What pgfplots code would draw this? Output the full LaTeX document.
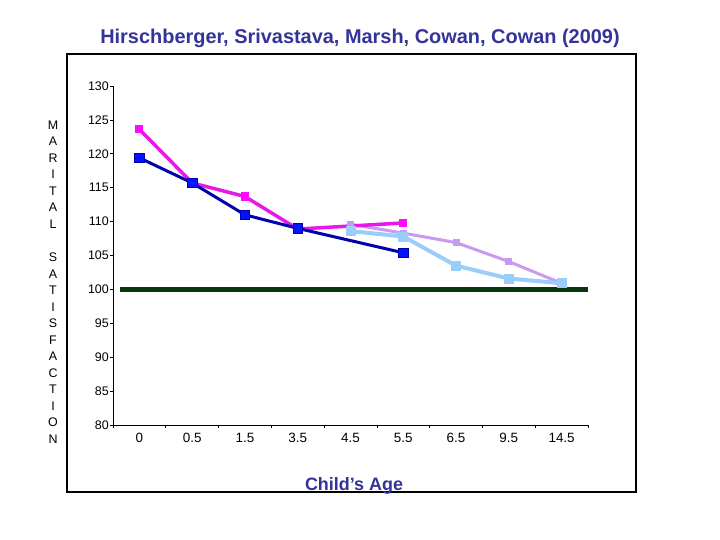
\documentclass[border=0pt]{standalone}
\usepackage{pgfplots}
\pgfplotsset{compat=1.18}
\usepackage{fontspec}
\setmainfont{Liberation Sans}

\definecolor{titleblue}{RGB}{51,51,153}
\definecolor{darkblue}{RGB}{0,0,175}
\definecolor{markblue}{RGB}{0,20,255}
\definecolor{mag}{RGB}{230,25,230}
\definecolor{magmark}{RGB}{255,10,255}
\definecolor{lav}{RGB}{200,155,240}
\definecolor{lblue}{RGB}{155,205,250}
\definecolor{dgreen}{RGB}{10,55,15}

\begin{document}
\begin{tikzpicture}[x=1bp,y=1bp]
\path[use as bounding box] (0,0) rectangle (720,540);
% outer frame
\draw[line width=1.2bp] (67,486) rectangle (636,48);

\node[font=\fontsize{20}{24}\selectfont\bfseries, text=titleblue] at (360,502)
  {Hirschberger, Srivastava, Marsh, Cowan, Cowan (2009)};
\node[font=\fontsize{18}{22}\selectfont\bfseries, text=titleblue] at (354,54)
  {Child’s Age};
\node[font=\fontsize{12.5}{16.6}\selectfont, align=center, inner sep=0pt] at (53,258)
  {M\\A\\R\\I\\T\\A\\L\\[16.6bp]S\\A\\T\\I\\S\\F\\A\\C\\T\\I\\O\\N};

\begin{axis}[
  at={(113bp,115bp)}, anchor=south west,
  scale only axis, width=475bp, height=339bp,
  xmin=0, xmax=9, ymin=80, ymax=130,
  axis lines=left, axis line style={-, line width=0.9bp},
  tick align=outside, major tick length=3bp,
  tick style={black, line width=0.6bp},
  ytick={80,85,...,130},
  xtick={0,...,9}, xticklabels={},
  extra x ticks={0.5,1.5,...,8.5},
  extra x tick labels={0,0.5,1.5,3.5,4.5,5.5,6.5,9.5,14.5},
  extra x tick style={major tick length=0pt},
  /pgf/number format/assume math mode=true,
  yticklabel style={font=\fontsize{12.5}{14}\selectfont, inner sep=1bp},
  xticklabel style={font=\fontsize{13.5}{15}\selectfont, yshift=-5bp},
  clip=false,
]
\addplot[dgreen, line width=5bp, mark=none] coordinates {(0.13,100) (9,100)};

\addplot[lav, line width=3bp, mark=square*, mark size=3bp,
  mark options={fill=lav, draw=lav, line width=0pt}] coordinates {
  (4.5,109.6) (5.5,108.3) (6.5,106.9) (7.5,104.1) (8.5,100.9)};

\addplot[lblue, line width=4bp, mark=square*, mark size=4.5bp,
  mark options={fill=lblue, draw=lblue, line width=0pt}] coordinates {
  (4.5,108.6) (5.5,107.8) (6.5,103.5) (7.5,101.6) (8.5,100.9)};

\addplot[mag, line width=3.5bp, mark=square*, mark size=3.6bp,
  mark options={fill=magmark, draw=magmark, line width=0pt}] coordinates {
  (0.5,123.6) (1.5,115.7) (2.5,113.7) (3.5,108.9) (5.5,109.8)};

\addplot[darkblue, line width=3bp, mark=square*, mark size=4.8bp,
  mark options={fill=markblue, draw=darkblue, line width=0.8bp}] coordinates {
  (0.5,119.4) (1.5,115.7) (2.5,111.0) (3.5,109.0) (5.5,105.4)};
\end{axis}
\end{tikzpicture}
\end{document}
